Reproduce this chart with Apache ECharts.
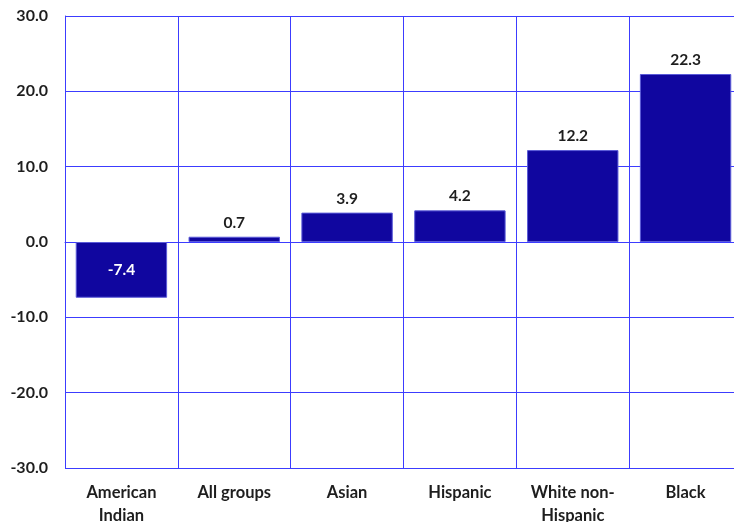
<!DOCTYPE html>
<html><head><meta charset="utf-8">
<script src="https://cdn.jsdelivr.net/npm/echarts@6/dist/echarts.min.js"></script>
<style>html,body{margin:0;padding:0;background:#fff}#c{width:734px;height:522px}</style>
</head><body><div id="c"></div>
<script>
const categories = ['American\nIndian', 'All groups', 'Asian', 'Hispanic', 'White non-\nHispanic', 'Black'];
const values = [-7.4, 0.7, 3.9, 4.2, 12.2, 22.3];
const yMin = -30, yMax = 30, yStep = 10;

const chart = echarts.init(document.getElementById('c'));
const font = 'Lato, "Open Sans", sans-serif';
const gridColor = '#3c3cff';
chart.setOption({
  animation: false,
  grid: {left: 65, top: 16, right: -8, bottom: 54, outerBoundsMode: 'none', containLabel: false},
  xAxis: {
    type: 'category', data: categories,
    axisLine: {show: true, onZero: true, lineStyle: {color: gridColor, width: 1}}, axisTick: {show: false},
    splitLine: {show: true, lineStyle: {color: gridColor, width: 1}},
    axisLabel: {color: '#1e1e1e', fontFamily: font, fontWeight: 'bold', fontSize: 16.5, lineHeight: 23, margin: 0,
      padding: [13, 0, 0, 0]}
  },
  yAxis: {
    type: 'value', min: yMin, max: yMax, interval: yStep,
    axisLine: {show: true, lineStyle: {color: gridColor, width: 1}}, axisTick: {show: false},
    splitLine: {show: true, lineStyle: {color: gridColor, width: 1}},
    axisLabel: {color: '#1e1e1e', fontFamily: font, fontWeight: 'bold', fontSize: 16, margin: 17,
      formatter: v => v.toFixed(1)}
  },
  series: [{
    type: 'bar', data: values.map(v => v < 0 ? {value: v, label: {position: 'inside', color: '#ffffff'}} : v),
    barCategoryGap: '19%',
    itemStyle: {color: '#10069f', borderColor: '#5a5ad8', borderWidth: 1},
    label: {show: true, position: 'top', distance: 6, color: '#1e1e1e', fontFamily: font, fontWeight: 'bold', fontSize: 15.5,
      formatter: p => p.value.toFixed(1)}
  }]
});
</script></body></html>
